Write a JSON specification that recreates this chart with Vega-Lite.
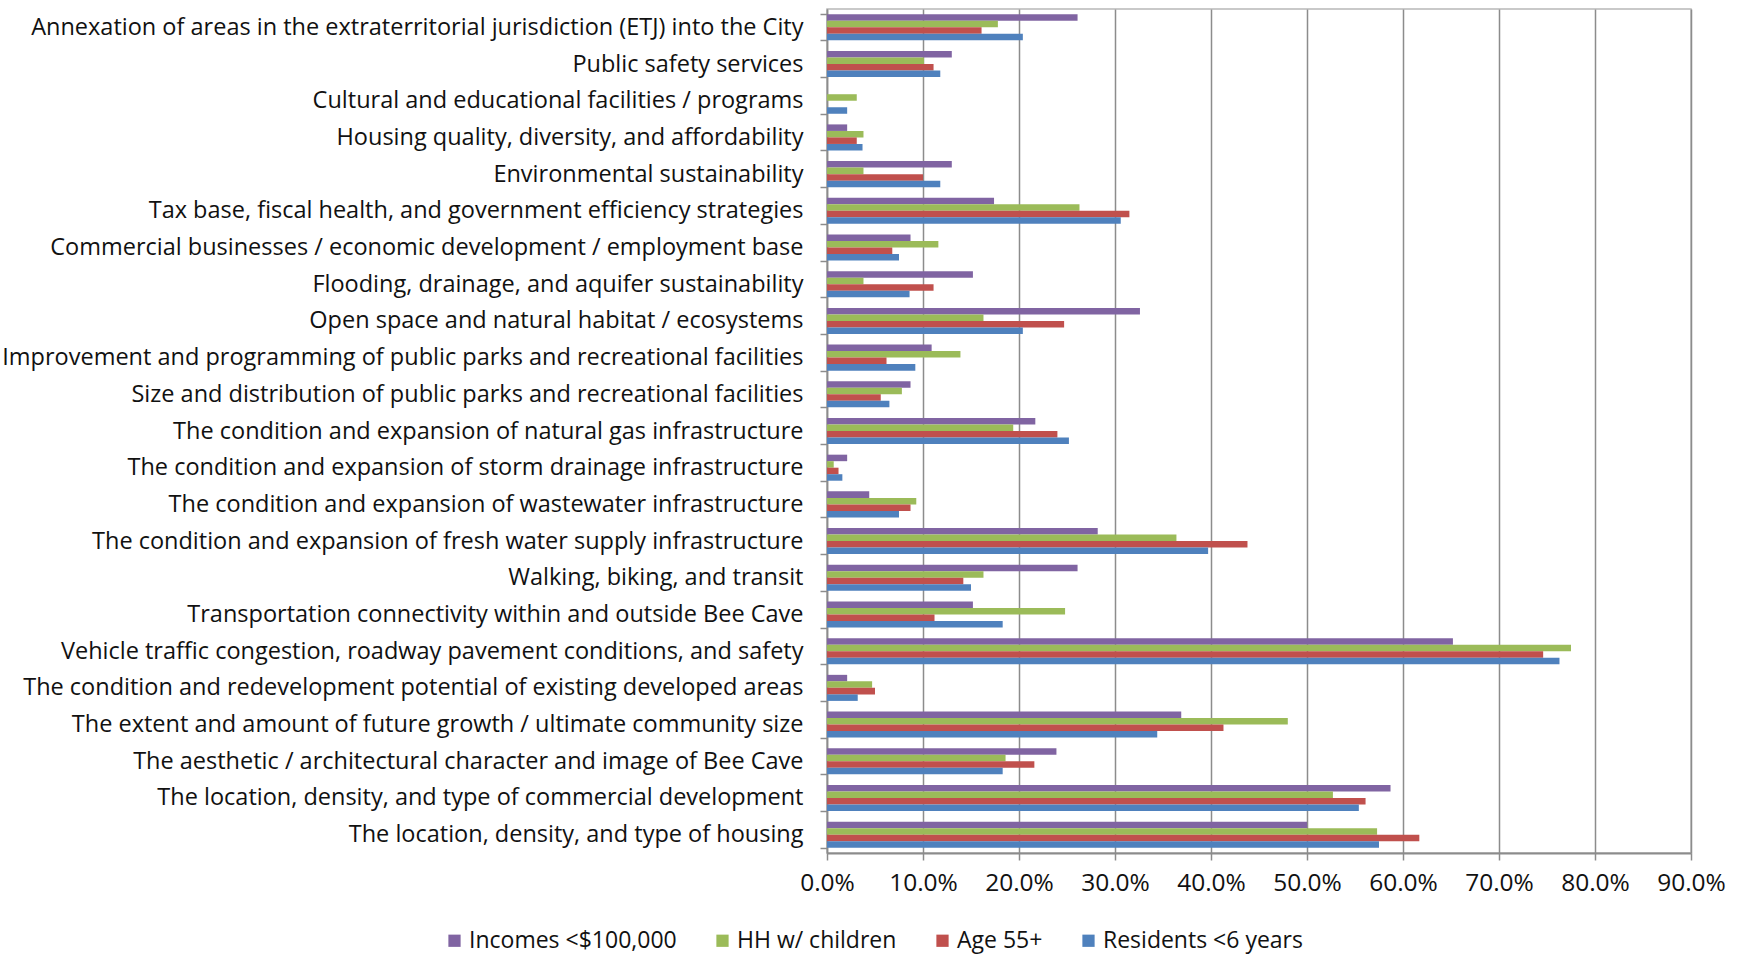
{
  "$schema": "https://vega.github.io/schema/vega-lite/v6.json",
  "width": 864,
  "height": 844,
  "autosize": {"type": "none"},
  "padding": {"left": 827, "top": 9, "right": 50, "bottom": 103},
  "background": "white",
  "config": {
    "font": "Open Sans",
    "view": {"stroke": "#b8b8b8", "strokeWidth": 1.5}
  },
  "data": {"values": [
    {"c": "Annexation of areas in the extraterritorial jurisdiction (ETJ) into the City", "s": "Incomes <$100,000", "v": 0.261},
    {"c": "Annexation of areas in the extraterritorial jurisdiction (ETJ) into the City", "s": "HH w/ children", "v": 0.178},
    {"c": "Annexation of areas in the extraterritorial jurisdiction (ETJ) into the City", "s": "Age 55+", "v": 0.161},
    {"c": "Annexation of areas in the extraterritorial jurisdiction (ETJ) into the City", "s": "Residents <6 years", "v": 0.204},
    {"c": "Public safety services", "s": "Incomes <$100,000", "v": 0.130},
    {"c": "Public safety services", "s": "HH w/ children", "v": 0.101},
    {"c": "Public safety services", "s": "Age 55+", "v": 0.111},
    {"c": "Public safety services", "s": "Residents <6 years", "v": 0.118},
    {"c": "Cultural and educational facilities / programs", "s": "Incomes <$100,000", "v": 0.0},
    {"c": "Cultural and educational facilities / programs", "s": "HH w/ children", "v": 0.031},
    {"c": "Cultural and educational facilities / programs", "s": "Age 55+", "v": 0.0},
    {"c": "Cultural and educational facilities / programs", "s": "Residents <6 years", "v": 0.021},
    {"c": "Housing quality, diversity, and affordability", "s": "Incomes <$100,000", "v": 0.021},
    {"c": "Housing quality, diversity, and affordability", "s": "HH w/ children", "v": 0.038},
    {"c": "Housing quality, diversity, and affordability", "s": "Age 55+", "v": 0.031},
    {"c": "Housing quality, diversity, and affordability", "s": "Residents <6 years", "v": 0.037},
    {"c": "Environmental sustainability", "s": "Incomes <$100,000", "v": 0.130},
    {"c": "Environmental sustainability", "s": "HH w/ children", "v": 0.038},
    {"c": "Environmental sustainability", "s": "Age 55+", "v": 0.100},
    {"c": "Environmental sustainability", "s": "Residents <6 years", "v": 0.118},
    {"c": "Tax base, fiscal health, and government efficiency strategies", "s": "Incomes <$100,000", "v": 0.174},
    {"c": "Tax base, fiscal health, and government efficiency strategies", "s": "HH w/ children", "v": 0.263},
    {"c": "Tax base, fiscal health, and government efficiency strategies", "s": "Age 55+", "v": 0.315},
    {"c": "Tax base, fiscal health, and government efficiency strategies", "s": "Residents <6 years", "v": 0.306},
    {"c": "Commercial businesses / economic development / employment base", "s": "Incomes <$100,000", "v": 0.087},
    {"c": "Commercial businesses / economic development / employment base", "s": "HH w/ children", "v": 0.116},
    {"c": "Commercial businesses / economic development / employment base", "s": "Age 55+", "v": 0.068},
    {"c": "Commercial businesses / economic development / employment base", "s": "Residents <6 years", "v": 0.075},
    {"c": "Flooding, drainage, and aquifer sustainability", "s": "Incomes <$100,000", "v": 0.152},
    {"c": "Flooding, drainage, and aquifer sustainability", "s": "HH w/ children", "v": 0.038},
    {"c": "Flooding, drainage, and aquifer sustainability", "s": "Age 55+", "v": 0.111},
    {"c": "Flooding, drainage, and aquifer sustainability", "s": "Residents <6 years", "v": 0.086},
    {"c": "Open space and natural habitat / ecosystems", "s": "Incomes <$100,000", "v": 0.326},
    {"c": "Open space and natural habitat / ecosystems", "s": "HH w/ children", "v": 0.163},
    {"c": "Open space and natural habitat / ecosystems", "s": "Age 55+", "v": 0.247},
    {"c": "Open space and natural habitat / ecosystems", "s": "Residents <6 years", "v": 0.204},
    {"c": "Improvement and programming of public parks and recreational facilities", "s": "Incomes <$100,000", "v": 0.109},
    {"c": "Improvement and programming of public parks and recreational facilities", "s": "HH w/ children", "v": 0.139},
    {"c": "Improvement and programming of public parks and recreational facilities", "s": "Age 55+", "v": 0.062},
    {"c": "Improvement and programming of public parks and recreational facilities", "s": "Residents <6 years", "v": 0.092},
    {"c": "Size and distribution of public parks and recreational facilities", "s": "Incomes <$100,000", "v": 0.087},
    {"c": "Size and distribution of public parks and recreational facilities", "s": "HH w/ children", "v": 0.078},
    {"c": "Size and distribution of public parks and recreational facilities", "s": "Age 55+", "v": 0.056},
    {"c": "Size and distribution of public parks and recreational facilities", "s": "Residents <6 years", "v": 0.065},
    {"c": "The condition and expansion of natural gas infrastructure", "s": "Incomes <$100,000", "v": 0.217},
    {"c": "The condition and expansion of natural gas infrastructure", "s": "HH w/ children", "v": 0.194},
    {"c": "The condition and expansion of natural gas infrastructure", "s": "Age 55+", "v": 0.240},
    {"c": "The condition and expansion of natural gas infrastructure", "s": "Residents <6 years", "v": 0.252},
    {"c": "The condition and expansion of storm drainage infrastructure", "s": "Incomes <$100,000", "v": 0.021},
    {"c": "The condition and expansion of storm drainage infrastructure", "s": "HH w/ children", "v": 0.007},
    {"c": "The condition and expansion of storm drainage infrastructure", "s": "Age 55+", "v": 0.012},
    {"c": "The condition and expansion of storm drainage infrastructure", "s": "Residents <6 years", "v": 0.016},
    {"c": "The condition and expansion of wastewater infrastructure", "s": "Incomes <$100,000", "v": 0.044},
    {"c": "The condition and expansion of wastewater infrastructure", "s": "HH w/ children", "v": 0.093},
    {"c": "The condition and expansion of wastewater infrastructure", "s": "Age 55+", "v": 0.087},
    {"c": "The condition and expansion of wastewater infrastructure", "s": "Residents <6 years", "v": 0.075},
    {"c": "The condition and expansion of fresh water supply infrastructure", "s": "Incomes <$100,000", "v": 0.282},
    {"c": "The condition and expansion of fresh water supply infrastructure", "s": "HH w/ children", "v": 0.364},
    {"c": "The condition and expansion of fresh water supply infrastructure", "s": "Age 55+", "v": 0.438},
    {"c": "The condition and expansion of fresh water supply infrastructure", "s": "Residents <6 years", "v": 0.397},
    {"c": "Walking, biking, and transit", "s": "Incomes <$100,000", "v": 0.261},
    {"c": "Walking, biking, and transit", "s": "HH w/ children", "v": 0.163},
    {"c": "Walking, biking, and transit", "s": "Age 55+", "v": 0.142},
    {"c": "Walking, biking, and transit", "s": "Residents <6 years", "v": 0.150},
    {"c": "Transportation connectivity within and outside Bee Cave", "s": "Incomes <$100,000", "v": 0.152},
    {"c": "Transportation connectivity within and outside Bee Cave", "s": "HH w/ children", "v": 0.248},
    {"c": "Transportation connectivity within and outside Bee Cave", "s": "Age 55+", "v": 0.112},
    {"c": "Transportation connectivity within and outside Bee Cave", "s": "Residents <6 years", "v": 0.183},
    {"c": "Vehicle traffic congestion, roadway pavement conditions, and safety", "s": "Incomes <$100,000", "v": 0.652},
    {"c": "Vehicle traffic congestion, roadway pavement conditions, and safety", "s": "HH w/ children", "v": 0.775},
    {"c": "Vehicle traffic congestion, roadway pavement conditions, and safety", "s": "Age 55+", "v": 0.746},
    {"c": "Vehicle traffic congestion, roadway pavement conditions, and safety", "s": "Residents <6 years", "v": 0.763},
    {"c": "The condition and redevelopment potential of existing developed areas", "s": "Incomes <$100,000", "v": 0.021},
    {"c": "The condition and redevelopment potential of existing developed areas", "s": "HH w/ children", "v": 0.047},
    {"c": "The condition and redevelopment potential of existing developed areas", "s": "Age 55+", "v": 0.050},
    {"c": "The condition and redevelopment potential of existing developed areas", "s": "Residents <6 years", "v": 0.032},
    {"c": "The extent and amount of future growth / ultimate community size", "s": "Incomes <$100,000", "v": 0.369},
    {"c": "The extent and amount of future growth / ultimate community size", "s": "HH w/ children", "v": 0.480},
    {"c": "The extent and amount of future growth / ultimate community size", "s": "Age 55+", "v": 0.413},
    {"c": "The extent and amount of future growth / ultimate community size", "s": "Residents <6 years", "v": 0.344},
    {"c": "The aesthetic / architectural character and image of Bee Cave", "s": "Incomes <$100,000", "v": 0.239},
    {"c": "The aesthetic / architectural character and image of Bee Cave", "s": "HH w/ children", "v": 0.186},
    {"c": "The aesthetic / architectural character and image of Bee Cave", "s": "Age 55+", "v": 0.216},
    {"c": "The aesthetic / architectural character and image of Bee Cave", "s": "Residents <6 years", "v": 0.183},
    {"c": "The location, density, and type of commercial development", "s": "Incomes <$100,000", "v": 0.587},
    {"c": "The location, density, and type of commercial development", "s": "HH w/ children", "v": 0.527},
    {"c": "The location, density, and type of commercial development", "s": "Age 55+", "v": 0.561},
    {"c": "The location, density, and type of commercial development", "s": "Residents <6 years", "v": 0.554},
    {"c": "The location, density, and type of housing", "s": "Incomes <$100,000", "v": 0.500},
    {"c": "The location, density, and type of housing", "s": "HH w/ children", "v": 0.573},
    {"c": "The location, density, and type of housing", "s": "Age 55+", "v": 0.617},
    {"c": "The location, density, and type of housing", "s": "Residents <6 years", "v": 0.575}
  ]},
  "mark": {"type": "bar"},
  "encoding": {
    "y": {
      "field": "c", "type": "nominal", "sort": null,
      "scale": {"paddingInner": 0.29, "paddingOuter": 0.145},
      "axis": {
        "title": null, "tickBand": "extent", "tickSize": 7, "tickColor": "#8c8c8c", "tickWidth": 1.5,
        "domainColor": "#8c8c8c", "domainWidth": 1.5,
        "labelFontSize": 23.5, "labelColor": "#111111", "labelPadding": 17, "labelLimit": 900
      }
    },
    "yOffset": {
      "field": "s", "type": "nominal",
      "sort": ["Incomes <$100,000", "HH w/ children", "Age 55+", "Residents <6 years"],
      "scale": {"paddingInner": 0, "paddingOuter": 0}
    },
    "x": {
      "field": "v", "type": "quantitative",
      "scale": {"domain": [0, 0.9], "nice": false},
      "axis": {
        "title": null, "format": ".1%", "values": [0, 0.1, 0.2, 0.3, 0.4, 0.5, 0.6, 0.7, 0.8, 0.9],
        "grid": true, "gridColor": "#8c8c8c", "gridWidth": 1.5,
        "tickSize": 7, "tickColor": "#8c8c8c", "tickWidth": 1.5,
        "domainColor": "#8c8c8c", "domainWidth": 2,
        "labelFontSize": 24.5, "labelColor": "#111111", "labelPadding": 11, "labelFlush": false
      }
    },
    "color": {
      "field": "s", "type": "nominal",
      "scale": {
        "domain": ["Incomes <$100,000", "HH w/ children", "Age 55+", "Residents <6 years"],
        "range": ["#8064A2", "#9BBB59", "#C0504D", "#4F81BD"]
      },
      "legend": {
        "title": null, "orient": "none", "direction": "horizontal",
        "legendX": -384, "legendY": 920,
        "symbolType": "square", "symbolSize": 150, "symbolStrokeWidth": 0,
        "labelFontSize": 23, "labelColor": "#111111", "labelOffset": 3, "columnPadding": 34, "labelLimit": 400
      }
    }
  }
}
